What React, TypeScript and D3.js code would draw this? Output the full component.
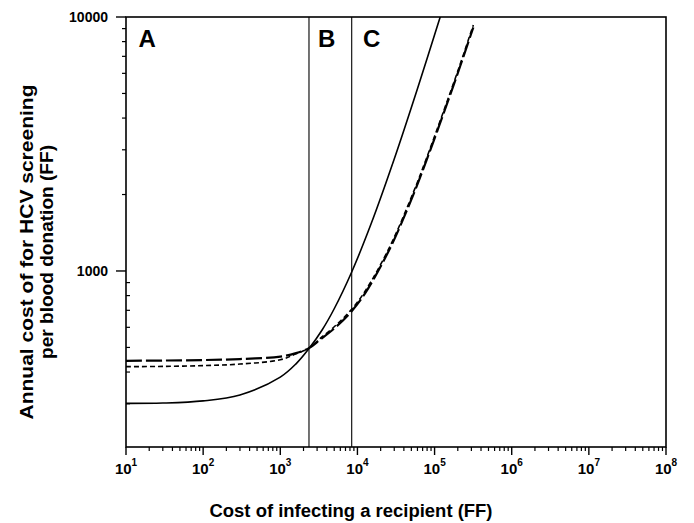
import React from "react";
import * as d3 from "d3";

const solidX = [10, 30, 100, 300, 1000, 1600, 2355, 3500, 5000, 8430, 15000, 30000, 60000, 121000];
const solidY = [301, 302, 308, 325, 382, 431, 495, 587, 710, 991, 1530, 2760, 5220, 10222];

const longX = [10, 30, 100, 300, 1000, 1600, 2355, 3270, 5000, 8020, 12500, 26400, 53100, 79000, 130000, 214000, 318000];
const longY = [443, 444, 446, 450, 460, 475, 497, 536, 594, 683, 815, 1227, 1999, 2740, 4147, 6385, 9108];

const shortX = [10, 30, 100, 300, 1000, 1600, 2355, 3270, 5000, 8020, 12500, 26400, 53100, 79000, 130000, 214000, 318000];
const shortY = [420, 421, 424, 430, 447, 472, 497, 542, 603, 695, 830, 1250, 2040, 2790, 4230, 6500, 9300];

const vLines = [2355, 8430];
const regionLabels = ["A", "B", "C"];
const regionX = [14.5, 3080, 11800];
const xMajor = [1, 2, 3, 4, 5, 6, 7, 8];
const yMajor = [1000, 10000];

const W = 694, H = 523;
const L = 126, R = 666, T = 17, B = 447;

export default function App() {
  const x = d3.scaleLog().domain([10, 1e8]).range([L, R]);
  const y = d3.scaleLog().domain([200, 10000]).range([B + 1.5, T]);

  const mk = (xs: number[], ys: number[]) =>
    d3.line<number>()
      .x((_, i) => x(xs[i]))
      .y((_, i) => y(ys[i]))
      .curve(d3.curveCatmullRom.alpha(0.5))(xs.map((_, i) => i)) || "";

  const xMinor: number[] = [];
  for (let e = 1; e < 8; e++) for (let k = 2; k <= 9; k++) xMinor.push(k * Math.pow(10, e));
  const yMinor: number[] = [];
  for (let k = 3; k <= 9; k++) yMinor.push(k * 100);
  for (let k = 2; k <= 9; k++) yMinor.push(k * 1000);

  const font = "'Liberation Sans', Arial, Helvetica, sans-serif";

  return (
    <svg width={W} height={H} style={{ display: "block", position: "absolute", left: 0, top: 0 }} fontFamily={font}>
      <rect width={W} height={H} fill="#fff" />
      <defs>
        <clipPath id="plot">
          <rect x={L} y={T} width={R - L} height={B - T} />
        </clipPath>
      </defs>
      <rect x={L} y={T} width={R - L} height={B - T} fill="none" stroke="#000" strokeWidth={1.6} />
      {xMinor.map((v, i) => (
        <line key={"xm" + i} x1={x(v)} x2={x(v)} y1={B} y2={B + 4} stroke="#000" strokeWidth={1.2} />
      ))}
      {xMajor.map((e) => (
        <g key={"xM" + e}>
          <line x1={x(Math.pow(10, e))} x2={x(Math.pow(10, e))} y1={B} y2={B + 8} stroke="#000" strokeWidth={1.4} />
          <text x={x(Math.pow(10, e))} y={474} textAnchor="middle" fontSize={15} fontWeight="bold">
            10
            <tspan fontSize={10} dy={-8}>{e}</tspan>
          </text>
        </g>
      ))}
      {yMinor.map((v, i) => (
        <line key={"ym" + i} x1={v < 1000 ? L : L - 4} x2={v < 1000 ? L + 4 : L} y1={y(v)} y2={y(v)} stroke="#000" strokeWidth={1.2} />
      ))}
      {yMajor.map((v) => (
        <g key={"yM" + v}>
          <line x1={L - 10} x2={L} y1={y(v)} y2={y(v)} stroke="#000" strokeWidth={1.4} />
          <text x={L - 18} y={y(v) + 5} textAnchor="end" fontSize={14} fontWeight="bold">
            {v}
          </text>
        </g>
      ))}
      {vLines.map((v, i) => (
        <line key={"vl" + i} x1={x(v)} x2={x(v)} y1={T} y2={B} stroke="#000" strokeWidth={1.1} />
      ))}
      {regionLabels.map((s, i) => (
        <text key={s} x={x(regionX[i])} y={47} fontSize={24} fontWeight="bold">
          {s}
        </text>
      ))}
      <g clipPath="url(#plot)" fill="none" stroke="#000">
        <path d={mk(shortX, shortY)} strokeWidth={1.6} strokeDasharray="5 3" />
        <path d={mk(longX, longY)} strokeWidth={2.2} strokeDasharray="16 4" />
        <path d={mk(solidX, solidY)} strokeWidth={1.6} />
      </g>
      <text x={351} y={517} textAnchor="middle" fontSize={18} fontWeight="bold" textLength={283} lengthAdjust="spacingAndGlyphs">
        Cost of infecting a recipient (FF)
      </text>
      <g transform="translate(33,252) rotate(-90)">
        <text x={0} y={0} textAnchor="middle" fontSize={18} fontWeight="bold" textLength={335} lengthAdjust="spacingAndGlyphs">
          Annual cost of for HCV screening
        </text>
        <text x={0} y={20} textAnchor="middle" fontSize={18} fontWeight="bold" textLength={214} lengthAdjust="spacingAndGlyphs">
          per blood donation (FF)
        </text>
      </g>
    </svg>
  );
}
